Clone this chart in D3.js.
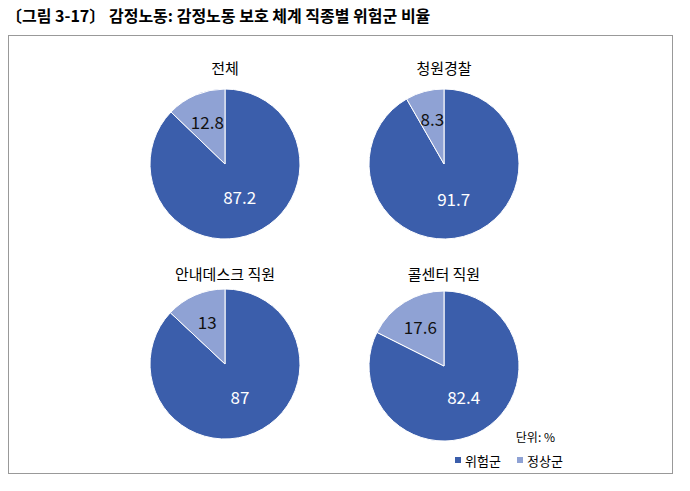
<!DOCTYPE html>
<html><head><meta charset="utf-8">
<script src="https://cdn.jsdelivr.net/npm/d3@7"></script>
<style>body{margin:0;background:#fff}</style>
</head><body>
<svg width="690" height="491"></svg>
<script>
// chart data
var groups = ["전체", "청원경찰", "안내데스크 직원", "콜센터 직원"];
var risk = [87.2, 91.7, 87, 82.4];
var normal = [12.8, 8.3, 13, 17.6];
var seriesNames = ["위험군", "정상군"];
var colors = ["#3b5eab", "#8fa2d4"];

var svg = d3.select("svg");
var font = "'Noto Sans CJK KR', 'Noto Sans', sans-serif";

svg.append("text").attr("x", 6).attr("y", 22)
  .attr("font-family", font).attr("font-size", 16).attr("font-weight", "bold")
  .text("〔그림 3-17〕 감정노동: 감정노동 보호 체계 직종별 위험군 비율");

svg.append("rect").attr("x", 8.5).attr("y", 35.5).attr("width", 664).attr("height", 438)
  .attr("fill", "none").attr("stroke", "#999");

var centers = [[225, 164], [444, 164], [225, 364], [444, 366]];
var titleY = [74, 74, 280, 280];
var r = 75;
var pie = d3.pie().sort(null);
var arc = d3.arc().innerRadius(0).outerRadius(r);
var labelArc = d3.arc().innerRadius(r * 0.55).outerRadius(r * 0.55);

groups.forEach(function(name, i) {
  var g = svg.append("g").attr("transform", "translate(" + centers[i] + ")");
  var vals = [risk[i], normal[i]];
  var arcs = pie(vals);
  g.selectAll("path").data(arcs).enter().append("path")
    .attr("d", arc).attr("fill", function(d, j) { return colors[j]; })
    .attr("stroke", "#fff").attr("stroke-width", 1);
  g.selectAll("text.v").data(arcs).enter().append("text")
    .attr("class", "v")
    .attr("transform", function(d, j) {
      var c = (j === 0 ? d3.arc().innerRadius(r*0.5).outerRadius(r*0.5) : d3.arc().innerRadius(r*0.6).outerRadius(r*0.6)).centroid(d);
      return "translate(" + c + ")";
    })
    .attr("text-anchor", "middle").attr("dy", "0.35em")
    .attr("font-family", font).attr("font-size", 17)
    .attr("fill", function(d, j) { return j === 0 ? "#fff" : "#111"; })
    .text(function(d) { return d.data; });
  svg.append("text").attr("x", centers[i][0]).attr("y", titleY[i])
    .attr("text-anchor", "middle").attr("font-family", font).attr("font-size", 15)
    .text(name);
});

svg.append("text").attr("x", 555).attr("y", 442).attr("text-anchor", "end")
  .attr("font-family", font).attr("font-size", 12).text("단위: %");
var leg = svg.append("g").attr("transform", "translate(455,462)");
seriesNames.forEach(function(s, i) {
  var x = i * 62;
  leg.append("rect").attr("x", x).attr("y", -5).attr("width", 6).attr("height", 6).attr("fill", colors[i]);
  leg.append("text").attr("x", x + 10).attr("y", 1).attr("dy", "0.2em")
    .attr("font-family", font).attr("font-size", 13).text(s);
});
</script>
</body></html>
